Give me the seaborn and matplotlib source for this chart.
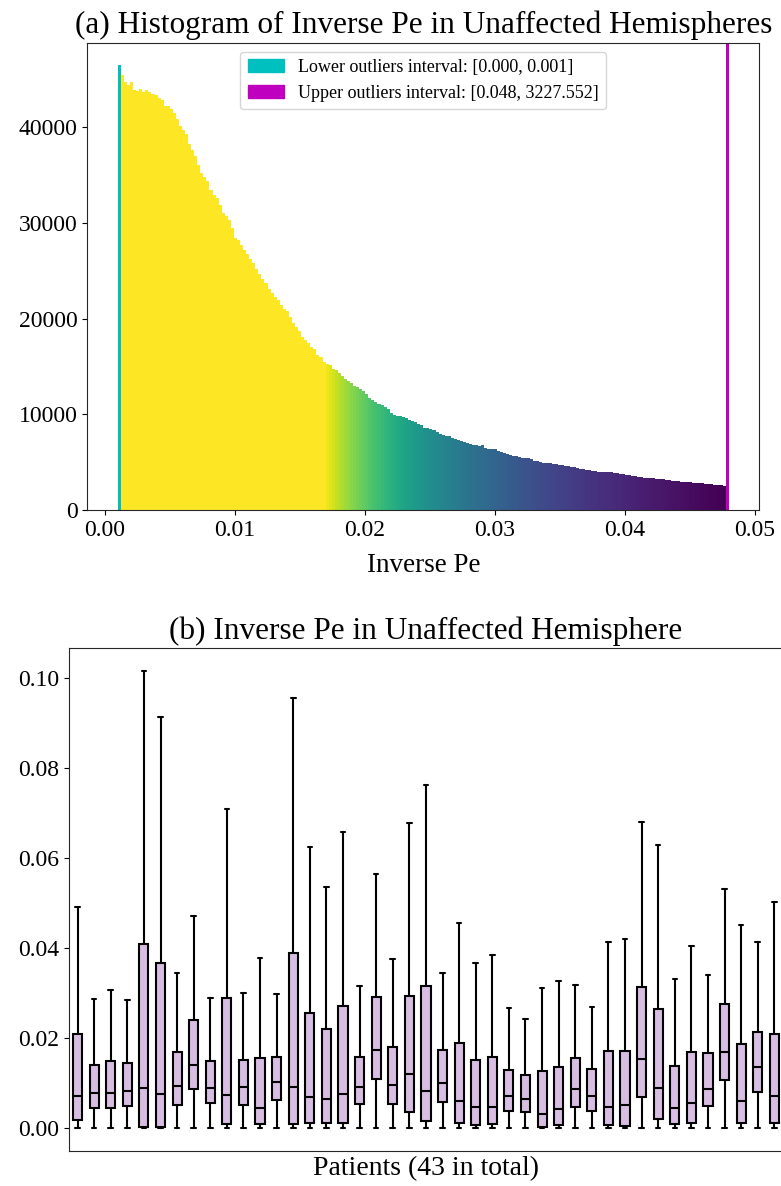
import numpy as np
import pandas as pd
import matplotlib
matplotlib.use("Agg")
import matplotlib.pyplot as plt
import seaborn as sns
from matplotlib.patches import Patch
from matplotlib.colors import Normalize

sns.set_style("ticks")
plt.rcParams["font.family"] = ["Liberation Serif", "DejaVu Serif"]
plt.rcParams.update({
    "text.color": "black",
    "axes.labelcolor": "black",
    "xtick.color": "black",
    "ytick.color": "black",
    "axes.edgecolor": "0.15",
})

# ---------------- histogram of inverse Pe ----------------
hist_lo, hist_hi, n_bins = 0.001, 0.048, 200
lower_interval = (0.000, 0.001)
upper_interval = (0.048, 3227.552)
lower_count = 46500

counts = [
    45400, 44700, 44400, 44700, 43900, 43800, 44000, 43700, 43900, 43650,
    43500, 43350, 43000, 42800, 42250, 42200, 41900, 41500, 40800, 40100,
    39700, 39300, 38200, 37600, 37000, 36000, 35200, 34800, 34400, 33400,
    32900, 32600, 31900, 31000, 30700, 30300, 29500, 28400, 28200, 27700,
    27200, 26700, 26200, 25800, 25200, 24650, 24150, 23700, 23100, 22700,
    22300, 21900, 21400, 21000, 20750, 20150, 19500, 19150, 18700, 18100,
    17800, 17400, 17000, 16800, 16200, 15950, 15500, 15270, 15150, 14750,
    14650, 14300, 13950, 13700, 13500, 13250, 13000, 12800, 12620, 12400,
    12080, 11750, 11500, 11300, 11100, 10950, 10750, 10500, 10100, 9950,
    9870, 9770, 9690, 9560, 9400, 9280, 9170, 9020, 8850, 8530,
    8600, 8470, 8380, 8100, 7970, 7870, 7780, 7680, 7560, 7430,
    7360, 7230, 7130, 6990, 6910, 6820, 6740, 6700, 6760, 6450,
    6370, 6340, 6320, 6190, 6090, 6000, 5880, 5760, 5690, 5610,
    5530, 5470, 5410, 5390, 5280, 5150, 5090, 5040, 4960, 4900,
    4870, 4820, 4780, 4750, 4680, 4620, 4560, 4530, 4470, 4380,
    4300, 4240, 4180, 4130, 4100, 4060, 4010, 3990, 3970, 3950,
    3940, 3890, 3840, 3790, 3740, 3680, 3610, 3540, 3510, 3470,
    3420, 3390, 3350, 3330, 3300, 3270, 3240, 3200, 3150, 3110,
    3060, 3020, 2990, 2970, 2940, 2910, 2880, 2850, 2830, 2800,
    2780, 2740, 2700, 2680, 2640, 2610, 2580, 2520,
]

# ---------------- per-patient box statistics ----------------
q1 = [0.0017, 0.0043, 0.0043, 0.00483, 0.00015, 0.00015, 0.00505, 0.00855,
      0.00543, 0.00074, 0.00505, 0.00074, 0.00616, 0.00082, 0.00098, 0.00098,
      0.00111, 0.00527, 0.01084, 0.00527, 0.0035, 0.00156, 0.00579, 0.00098,
      0.0006, 0.00075, 0.00378, 0.00343, 0.0002, 0.0006, 0.00467, 0.00378,
      0.0006, 0.00045, 0.0069, 0.00187, 0.00082, 0.00111, 0.00483, 0.01061,
      0.00098, 0.00801, 0.00111]
medians = [0.0071, 0.00766, 0.0078, 0.00823, 0.00877, 0.00743, 0.00928, 0.01395,
           0.00877, 0.00727, 0.009, 0.0043, 0.0101, 0.009, 0.00676, 0.00645,
           0.0075, 0.009, 0.01729, 0.00944, 0.01189, 0.00817, 0.00988, 0.00594,
           0.00467, 0.00467, 0.00712, 0.00638, 0.003, 0.0041, 0.00855, 0.00705,
           0.00467, 0.00505, 0.01535, 0.00877, 0.00445, 0.00556, 0.00861, 0.01678,
           0.00594, 0.01344, 0.00712]
q3 = [0.0208, 0.01395, 0.0149, 0.01433, 0.0409, 0.0367, 0.0169, 0.02397,
      0.01484, 0.0289, 0.01506, 0.01544, 0.01567, 0.0388, 0.02546, 0.0219,
      0.02708, 0.01567, 0.029, 0.018, 0.0293, 0.03153, 0.01729, 0.01878,
      0.01506, 0.0158, 0.01284, 0.01173, 0.01262, 0.01344, 0.01544, 0.013,
      0.01707, 0.01707, 0.03138, 0.02635, 0.01373, 0.0169, 0.01656, 0.02753,
      0.0187, 0.02136, 0.02085]
whisker_hi = [0.0492, 0.02857, 0.03064, 0.02841, 0.1016, 0.0915, 0.0345, 0.0471,
              0.0288, 0.0709, 0.0301, 0.0377, 0.02975, 0.0956, 0.0625, 0.0535,
              0.0659, 0.0315, 0.0565, 0.0375, 0.0677, 0.0763, 0.0345, 0.0455,
              0.0367, 0.0384, 0.0266, 0.0243, 0.0312, 0.0326, 0.0318, 0.0269,
              0.0414, 0.0419, 0.0681, 0.0629, 0.0330, 0.0404, 0.0341, 0.0531,
              0.0451, 0.0413, 0.0503]
whisker_lo = [0.0] * 43

fig = plt.figure(figsize=(7.81, 11.86), dpi=100)
ax1 = fig.add_axes([0.1118, 0.5700, 0.8604, 0.3940])
ax2 = fig.add_axes([0.0887, 0.0298, 0.9134, 0.4236])

# histogram: first bin is the lower-outlier bin, the last bin is the upper-outlier span
edges = np.linspace(hist_lo, hist_hi, n_bins + 1)
centers = 0.5 * (edges[:-1] + edges[1:])
hist_df = pd.DataFrame({
    "inv_pe": centers[:len(counts) + 1],
    "count": np.array([lower_count] + counts, dtype=float),
})
sns.histplot(data=hist_df, x="inv_pe", weights="count",
             bins=[float(e) for e in edges[:len(counts) + 2]],
             ax=ax1, linewidth=0, alpha=1)

inv_pe = hist_df["inv_pe"].to_numpy()[1:]
pe = 1.0 / inv_pe
norm = Normalize(vmin=pe.min(), vmax=1.0 / 0.0168, clip=True)
bar_colors = plt.cm.viridis(norm(pe))
patches = ax1.patches
patches[0].set_facecolor("c")
for p, col in zip(patches[1:], bar_colors):
    p.set_facecolor(col)
ax1.axvspan(edges[-2], edges[-1], color="m", lw=0)

ax1.set_title("(a) Histogram of Inverse Pe in Unaffected Hemispheres",
              fontsize=22.5, pad=7)
ax1.set_xlabel("Inverse Pe", fontsize=19.5, labelpad=9)
ax1.set_ylabel("")
ax1.tick_params(labelsize=17)
handles = [
    Patch(color="c", label="Lower outliers interval: [%.3f, %.3f]" % lower_interval),
    Patch(color="m", label="Upper outliers interval: [%.3f, %.3f]" % upper_interval),
]
ax1.legend(handles=handles, loc="upper center", fontsize=13)

# boxes: one column per patient, whiskers spanning the full sample range
rows = []
for i in range(43):
    for v in (whisker_lo[i], q1[i], medians[i], q3[i], whisker_hi[i]):
        rows.append({"patient": i, "value": v})
df = pd.DataFrame(rows)
sns.boxplot(data=df, x="patient", y="value", ax=ax2, whis=(0, 100), width=0.55,
            color="#d7bde2", saturation=1, linecolor="black", linewidth=1.5,
            showfliers=False)
ax2.set_xticks([])
ax2.set_ylabel("")
ax2.set_xlabel("Patients (43 in total)", fontsize=20)
ax2.set_title("(b) Inverse Pe in Unaffected Hemisphere", fontsize=22.5, pad=7)
ax2.tick_params(labelsize=17)

fig.savefig("out.png", dpi=100)
